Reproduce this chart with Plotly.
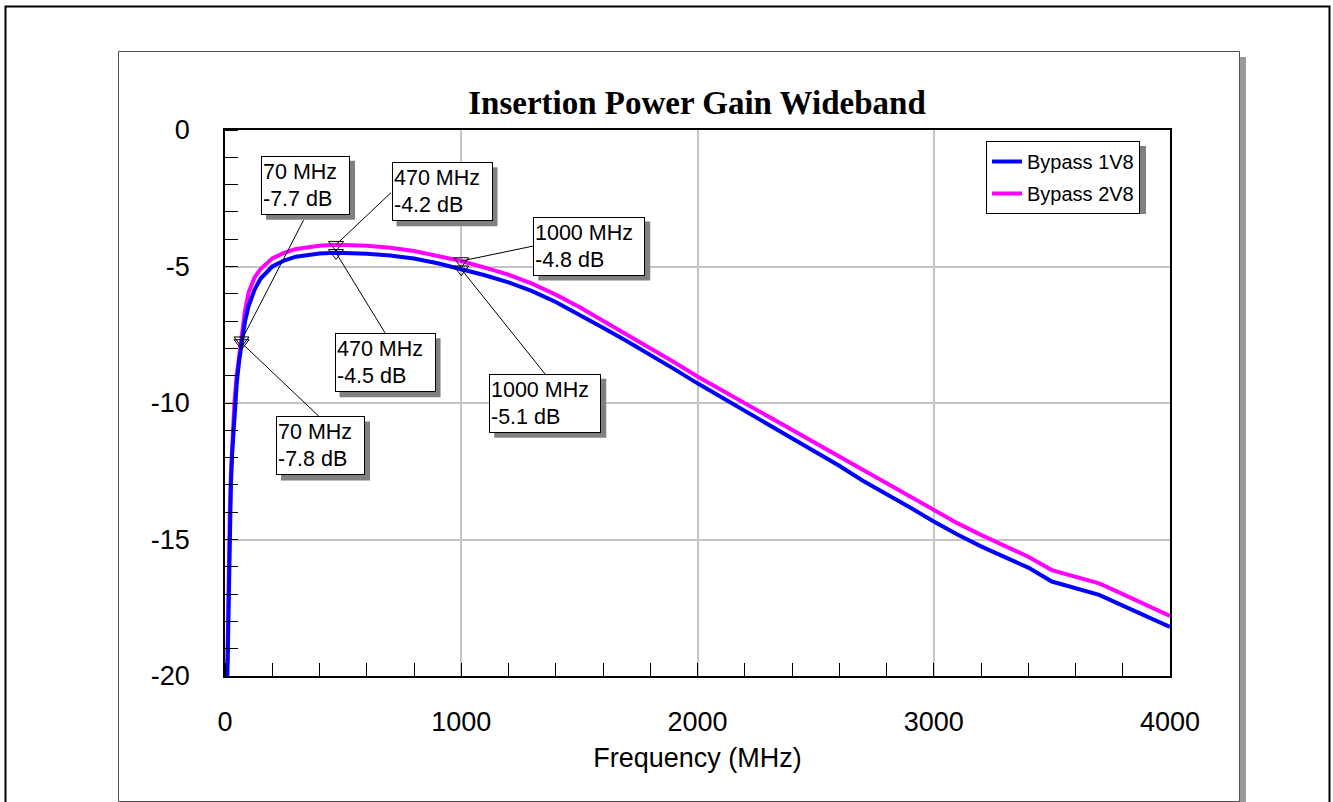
import plotly.graph_objects as go

# ---- data -------------------------------------------------------------
freq_mhz = [10, 12, 15, 20, 25, 30, 40, 50, 60, 70, 85, 100, 125, 150, 200,
            250, 300, 400, 470, 600, 700, 800, 900, 1000, 1100, 1200, 1300,
            1400, 1500, 1600, 1700, 1800, 1900, 2000, 2100, 2200, 2300, 2400,
            2500, 2600, 2700, 2800, 2900, 3000, 3100, 3200, 3300, 3400, 3500,
            3600, 3700, 3800, 3900, 4000]

gain_1v8 = [-20.0, -18.7, -16.9, -14.6, -13.0, -11.9, -10.3, -9.25, -8.45, -7.8,
            -7.0, -6.45, -5.85, -5.45, -5.0, -4.78, -4.64, -4.52, -4.5, -4.53,
            -4.6, -4.71, -4.88, -5.1, -5.32, -5.58, -5.9, -6.3, -6.75, -7.24,
            -7.73, -8.22, -8.75, -9.28, -9.78, -10.28, -10.77, -11.28, -11.8,
            -12.3, -12.85, -13.33, -13.83, -14.34, -14.82, -15.25, -15.64,
            -16.03, -16.54, -16.78, -17.03, -17.42, -17.82, -18.2]

gain_2v8 = [-19.6, -18.2, -16.4, -14.1, -12.6, -11.5, -9.95, -8.95, -8.25, -7.7,
            -6.6, -5.95, -5.4, -5.1, -4.7, -4.5, -4.36, -4.24, -4.2, -4.24,
            -4.31, -4.43, -4.6, -4.8, -5.04, -5.3, -5.63, -6.03, -6.48, -6.98,
            -7.48, -7.97, -8.5, -9.03, -9.52, -10.02, -10.5, -10.98, -11.47,
            -11.95, -12.48, -12.96, -13.45, -13.95, -14.4, -14.83, -15.23,
            -15.63, -16.12, -16.36, -16.61, -17.0, -17.4, -17.8]

series_names = ["Bypass 1V8", "Bypass 2V8"]

marker_freq = [70, 470, 1000, 70, 470, 1000]
marker_gain = [-7.7, -4.2, -4.8, -7.8, -4.5, -5.1]

x_tick_vals = [0, 1000, 2000, 3000, 4000]
x_tick_text = ["0", "1000", "2000", "3000", "4000"]
y_tick_vals = [0, -5, -10, -15, -20]
y_tick_text = ["0", "-5", "-10", "-15", "-20"]

# ---- geometry ---------------------------------------------------------
W, H = 1333, 802
ML, MR, MT, MB = 225, 163, 130, 126
PW, PH = W - ML - MR, H - MT - MB


def px_x(px):
    return (px - ML) / PW


def px_y(py):
    return (H - MB - py) / PH


FONT = "Arial, Liberation Sans, sans-serif"

# callout layout (same order as the markers): box centre offset from the
# marker in px, inner box width, leader-line end offset in px
callouts = [
    dict(dx=64, dy=155, w=85, lx=62, ly=120),     # 70 MHz, upper trace
    dict(dx=106, dy=53, w=97, lx=55, ly=52),      # 470 MHz, upper trace
    dict(dx=128, dy=15, w=108, lx=72, ly=15),     # 1000 MHz, upper trace
    dict(dx=79, dy=-103, w=85, lx=78, ly=-74),    # 70 MHz, lower trace
    dict(dx=49, dy=-110, w=97, lx=49, ly=-80),    # 470 MHz, lower trace
    dict(dx=84, dy=-134, w=108, lx=84, ly=-105),  # 1000 MHz, lower trace
]
BOX_H, BOX_PAD, BOX_BW, SHADOW = 55, 1, 1, 5

fig = go.Figure()

fig.add_trace(go.Scatter(
    x=freq_mhz, y=gain_2v8, mode="lines", name=series_names[1],
    line=dict(color="#ff00ff", width=4), legendgroup="b", legendrank=2,
))
fig.add_trace(go.Scatter(
    x=freq_mhz, y=gain_1v8, mode="lines", name=series_names[0],
    line=dict(color="#0000ff", width=4), legendgroup="a", legendrank=1,
))
fig.add_trace(go.Scatter(
    x=marker_freq, y=marker_gain, mode="markers", showlegend=False,
    marker=dict(symbol="triangle-down-open", size=13,
                color="black", line=dict(color="black", width=1)),
    hoverinfo="skip",
))

shapes = [
    # outer frame
    dict(type="rect", xref="paper", yref="paper",
         x0=px_x(5.5), x1=px_x(1329.5), y0=px_y(6.5), y1=px_y(840),
         line=dict(color="black", width=2), layer="below"),
    # panel shadow and panel
    dict(type="rect", xref="paper", yref="paper",
         x0=px_x(1240), x1=px_x(1246), y0=px_y(57), y1=px_y(840),
         line=dict(width=0), fillcolor="#9a9a9a", layer="below"),
    dict(type="rect", xref="paper", yref="paper",
         x0=px_x(118.5), x1=px_x(1239.5), y0=px_y(51.5), y1=px_y(801.5),
         line=dict(color="#505050", width=1), layer="below"),
    # legend shadow
    dict(type="rect", xref="paper", yref="paper",
         x0=px_x(991), x1=px_x(1146), y0=px_y(146), y1=px_y(214),
         line=dict(width=0), fillcolor="#808080", layer="above"),
]

annotations = []
for f, g, c in zip(marker_freq, marker_gain, callouts):
    text = f"{f} MHz<br>{g:.1f} dB"
    half_w = c["w"] / 2 + BOX_PAD + BOX_BW
    half_h = BOX_H / 2 + BOX_PAD + BOX_BW
    # leader line from the marker to the callout box
    shapes.append(dict(
        type="line", xref="x", yref="y",
        xsizemode="pixel", ysizemode="pixel", xanchor=f, yanchor=g,
        x0=0, y0=0, x1=c["lx"], y1=c["ly"],
        line=dict(color="black", width=1),
    ))
    # drop shadow behind the callout box
    shapes.append(dict(
        type="rect", xref="x", yref="y",
        xsizemode="pixel", ysizemode="pixel", xanchor=f, yanchor=g,
        x0=c["dx"] - half_w + SHADOW, x1=c["dx"] + half_w + SHADOW,
        y0=c["dy"] - half_h - SHADOW, y1=c["dy"] + half_h - SHADOW,
        line=dict(width=0), fillcolor="#808080", layer="above",
    ))
    annotations.append(dict(
        x=f, y=g, xref="x", yref="y", text=text, showarrow=False,
        align="left", width=c["w"], height=BOX_H, borderpad=BOX_PAD,
        borderwidth=BOX_BW, xanchor="center", yanchor="middle",
        xshift=c["dx"], yshift=c["dy"],
        bgcolor="white", bordercolor="black",
        font=dict(family=FONT, size=21.5, color="black"),
    ))

fig.update_layout(
    width=W, height=H, autosize=False,
    margin=dict(l=ML, r=MR, t=MT, b=MB, pad=0),
    paper_bgcolor="white", plot_bgcolor="white",
    title=dict(text="<b>Insertion Power Gain Wideband</b>",
               x=px_x(697), xref="paper", xanchor="center",
               y=1 - 102 / H, yref="container", yanchor="middle",
               font=dict(family="Liberation Serif, Times New Roman, serif",
                         size=33, color="black")),
    legend=dict(x=px_x(986), y=px_y(141), xanchor="left", yanchor="top",
                bgcolor="white", bordercolor="black", borderwidth=1,
                font=dict(family=FONT, size=20, color="black"),
                tracegroupgap=3, itemwidth=30),
    shapes=shapes,
    annotations=annotations,
    xaxis=dict(
        range=[0, 4000], tickmode="array", tickvals=x_tick_vals,
        ticktext=x_tick_text, ticks="", showgrid=True, gridcolor="#c4c4c4",
        gridwidth=1.5, zeroline=False, showline=True, linecolor="black",
        linewidth=1.5, mirror=True, ticklabelstandoff=21,
        tickfont=dict(family=FONT, size=27, color="black"),
        title=dict(text="Frequency (MHz)", standoff=12,
                   font=dict(family=FONT, size=27, color="black")),
        minor=dict(ticks="inside", dtick=200, tick0=0, ticklen=13,
                   tickwidth=1, tickcolor="black", showgrid=False),
        automargin=False,
    ),
    yaxis=dict(
        range=[-20, 0], tickmode="array", tickvals=y_tick_vals,
        ticktext=y_tick_text, ticks="", showgrid=True, gridcolor="#c4c4c4",
        gridwidth=1.5, zeroline=False, showline=True, linecolor="black",
        linewidth=1.5, mirror=True, ticklabelstandoff=28,
        tickfont=dict(family=FONT, size=27, color="black"),
        minor=dict(ticks="inside", dtick=1, tick0=0, ticklen=13,
                   tickwidth=1, tickcolor="black", showgrid=False),
        automargin=False,
    ),
)

fig.write_html("out.html")
